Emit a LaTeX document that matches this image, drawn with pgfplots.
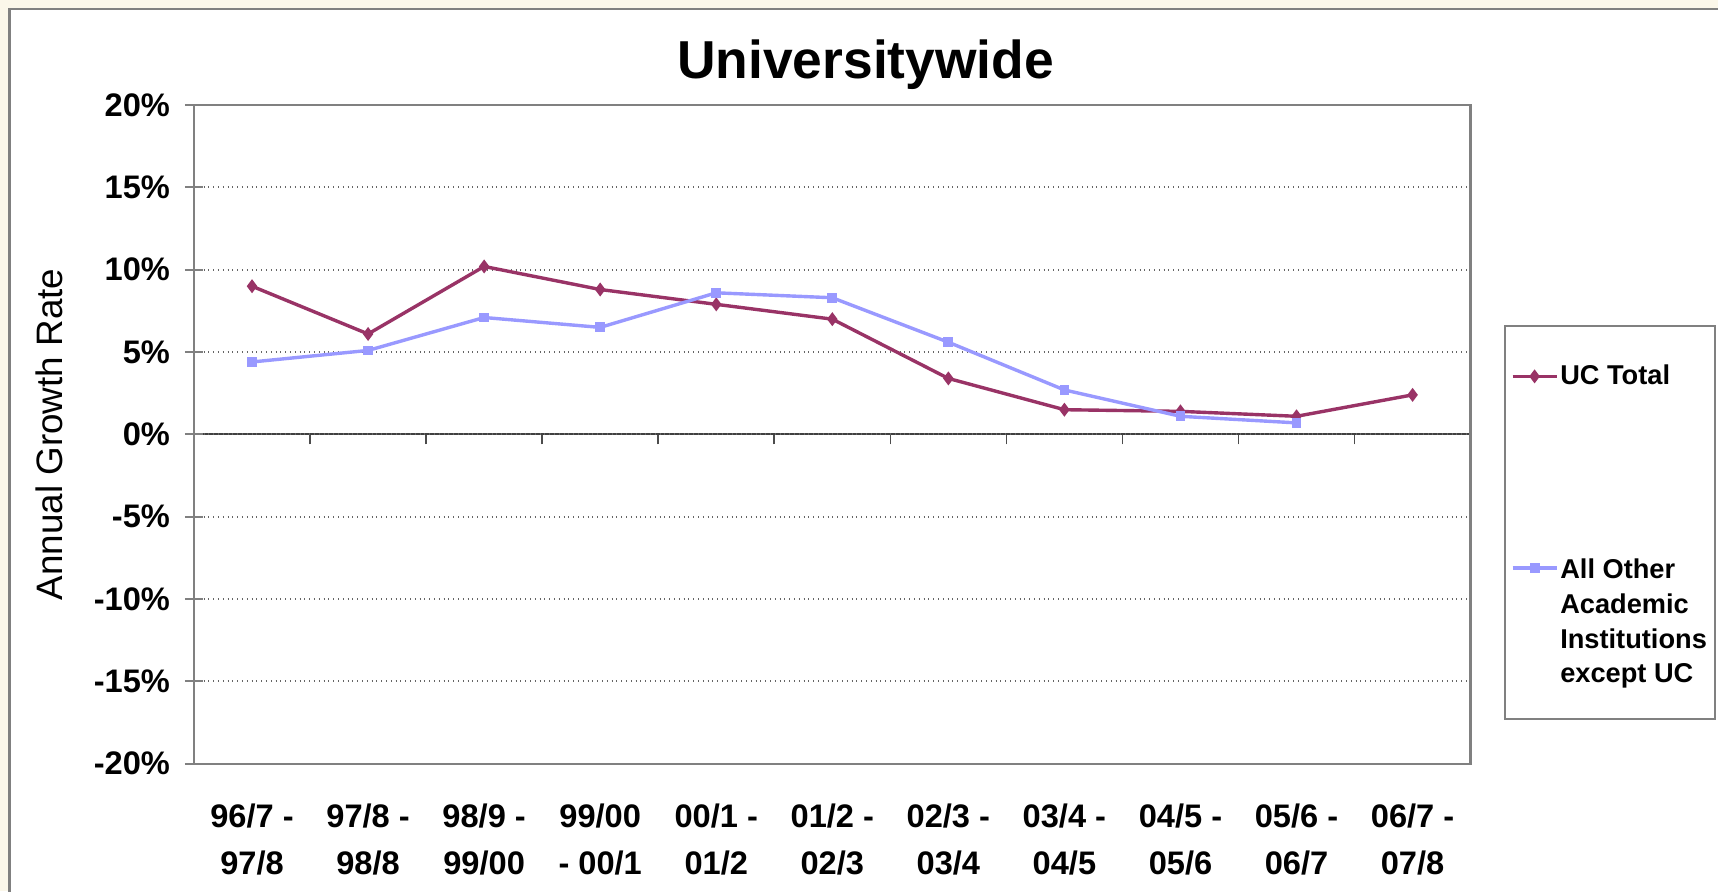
\documentclass[border=0pt]{standalone}
\usepackage{pgfplots}
\pgfplotsset{compat=1.18}
\usepackage{fontspec}
\setmainfont{Liberation Sans}
\definecolor{ucred}{RGB}{153,51,102}
\definecolor{othblue}{RGB}{153,153,255}
\definecolor{bgbeige}{RGB}{251,247,234}
\definecolor{framegray}{RGB}{128,128,128}
\pgfplotsset{shiftedimage/.style={legend image code/.code={\path[draw=none,fill=none] (0pt,-24.4pt) -- (0pt,24.4pt);\draw[mark repeat=2,mark phase=2,##1] plot coordinates {(0pt,24.4pt)(11pt,24.4pt)(22pt,24.4pt)};}}}
\pgfplotstableread{
x uc
0 9.0
1 6.1
2 10.2
3 8.8
4 7.9
5 7.0
6 3.4
7 1.5
8 1.4
9 1.1
10 2.4
}\uctable
\pgfplotstableread{
x oth
0 4.4
1 5.1
2 7.1
3 6.5
4 8.6
5 8.3
6 5.6
7 2.7
8 1.1
9 0.7
}\othtable
\begin{document}
\begin{tikzpicture}
\path[use as bounding box] (0,0) rectangle (859pt,445.5pt);
\fill[bgbeige] (0,0) rectangle (859pt,445.5pt);
\filldraw[fill=white, draw=framegray, line width=1.2pt] (4.8pt,-10pt) rectangle (870pt,441pt);
\node[font=\fontsize{26.7}{30}\selectfont\bfseries] at (432.8pt,413.2pt) {Universitywide};
% zero line with boundary ticks
\begin{axis}[
  at={(97pt,63.65pt)}, anchor=south west, scale only axis,
  width=638.3pt, height=329.3pt,
  xmin=-0.5, xmax=10.5, ymin=-20, ymax=20,
  axis x line*=middle, axis y line=none,
  x axis line style={draw=black!75, line width=1pt},
  xtick={-0.5,0.5,...,10.5}, xticklabels={},
  tick align=outside, major tick length=5pt,
  tick style={draw=black!70, line width=0.8pt},
]
\addplot[draw=none] coordinates {(0,0)};
\end{axis}
\begin{axis}[
  at={(97pt,63.65pt)}, anchor=south west, scale only axis,
  width=638.3pt, height=329.3pt,
  xmin=-0.5, xmax=10.5, ymin=-20, ymax=20,
  axis line style={draw=framegray, line width=1.2pt},
  ytick={-20,-15,...,20}, ytick pos=left,
  yticklabel={\pgfmathprintnumber{\tick}\%},
  yticklabel style={font=\fontsize{16.3}{19}\selectfont\bfseries, xshift=-4pt},
  y tick style={draw=framegray, line width=1pt}, ytick align=center,
  major tick length=9pt,
  xtick={0,...,10},
  x tick style={draw=none},
  xticklabels={{96/7 -\\97/8},{97/8 -\\98/8},{98/9 -\\99/00},{99/00\\- 00/1},{00/1 -\\01/2},{01/2 -\\02/3},{02/3 -\\03/4},{03/4 -\\04/5},{04/5 -\\05/6},{05/6 -\\06/7},{06/7 -\\07/8}},
  xticklabel style={font=\fontsize{16.3}{23.6}\selectfont\bfseries, align=center, yshift=-16.7pt},
  ymajorgrids, grid style={dotted, draw=black!60, line width=1pt},
  /pgf/number format/assume math mode=true,
  ylabel={Annual Growth Rate},
  every axis y label/.style={at={(axis description cs:-0.1136,0.5)}, rotate=90, anchor=center, font=\fontsize{18.4}{20}\selectfont},
  legend style={at={(axis description cs:1.0256,0.6676)}, anchor=north west,
    draw=framegray, line width=1pt, inner xsep=3pt, inner ysep=17.7pt,
    font=\fontsize{13.6}{17.4}\selectfont\bfseries,
    nodes={inner xsep=1pt, inner ysep=2pt},
    cells={anchor=west, line width=1.6pt}, row sep=79.2pt},
  legend image code/.code={\draw[mark repeat=2,mark phase=2,#1] plot coordinates {(0pt,0pt)(11pt,0pt)(22pt,0pt)};},
]
\addplot[color=ucred, line width=1.7pt, mark=diamond*, mark size=2.1pt] table[x=x,y=uc] {\uctable};
\addlegendentry{UC Total}
\addplot[color=othblue, line width=1.7pt, mark=square*, mark size=1.6pt, shiftedimage] table[x=x,y=oth] {\othtable};
\addlegendentry{\begin{tabular}[b]{@{}l@{}}All Other\\Academic\\Institutions\\except UC\\[-20.6pt]\rule{0pt}{1pt}\end{tabular}}
\end{axis}
\end{tikzpicture}
\end{document}
